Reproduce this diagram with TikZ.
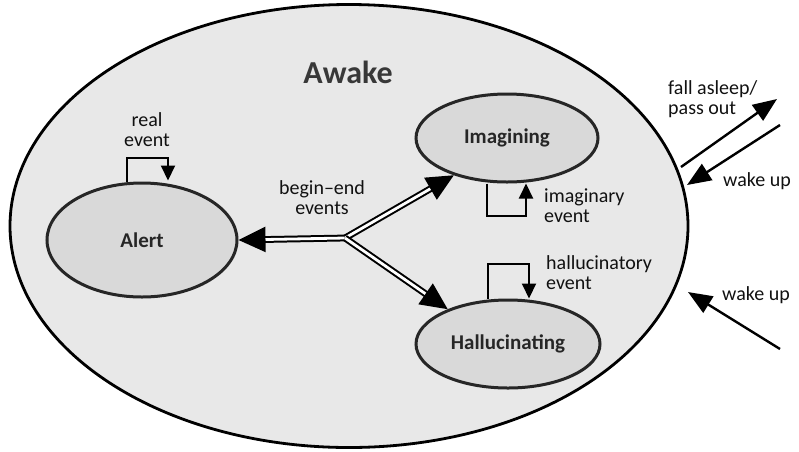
\documentclass[tikz,border=0pt]{standalone}
\usepackage{fontspec}
\setmainfont{Carlito}
\usetikzlibrary{shapes.geometric,arrows.meta,calc}
\definecolor{bigfill}{HTML}{E8E8E8}
\definecolor{smallfill}{HTML}{D9D9D9}
\definecolor{txt}{HTML}{111111}
\begin{document}
\begin{tikzpicture}[x=1pt,y=-1pt,
  state/.style={ellipse,draw=black!85,line width=3pt,fill=smallfill,inner sep=0pt,
    font=\fontsize{21}{24}\selectfont\bfseries,text=black!85},
  lbl/.style={font=\fontsize{20}{20}\selectfont,text=txt,align=left,inner sep=0pt},
  loopar/.style={line width=2pt,-{Triangle[length=15pt,width=14pt]}},
  outar/.style={line width=2.4pt,-{Triangle[length=24pt,width=19pt]}},
  dbl/.style={line width=2pt,double=white,double distance=2.8pt,-{Triangle[length=27pt,width=25pt]}}]
\useasboundingbox (0,0) rectangle (799,451);
\node[ellipse,draw=black,line width=2.8pt,fill=bigfill,minimum width=678pt,minimum height=443pt,inner sep=0pt] (awake) at (349,226) {};
\node[font=\fontsize{32}{36}\selectfont\bfseries,text=black!78] (awaketxt) at (348,72) {Awake};
\node[state,minimum width=190pt,minimum height=114pt] (alert) at (142,240) {Alert};
\node[state,minimum width=182pt,minimum height=88pt] (imag) at (507,138) {Imagining};
\node[state,minimum width=184pt,minimum height=88pt] (hall) at (508,344) {Hallucinating};
% loops
\node[lbl,align=center,anchor=center] (realtxt) at (147,130) {real\\event};
\draw[loopar] ([xshift=-15pt]alert.north) -- ++(0,-24) -| ([xshift=26pt,yshift=1pt]alert.north);
\node[lbl,anchor=west] (imagtxt) at (544,206) {imaginary\\event};
\draw[loopar] ([xshift=-20pt]imag.south) -- ++(0,32) -| ([xshift=19pt]imag.south);
\node[lbl,anchor=west] (halltxt) at (546,273) {hallucinatory\\event};
\draw[loopar] ([xshift=-20pt]hall.north) -- ++(0,-35) -| ([xshift=21pt]hall.north);
% begin-end
\coordinate (J) at (345,238);
\node[lbl,align=center] (betxt) at (322,198) {begin–end\\events};
\draw[dbl] (J) -- (alert.east);
\draw[dbl] (J) -- (imag.-145);
\draw[dbl] (J) -- (hall.150);
% outer arrows
\coordinate (fa0) at (681,167);
\coordinate (fa1) at (777,99);
\coordinate (wa0) at (780,125);
\coordinate (wa1) at (687,185);
\coordinate (wb0) at (780,349);
\coordinate (wb1) at (688,292);
\draw[outar] (fa0) -- (fa1);
\draw[outar] (wa0) -- (wa1);
\draw[outar] (wb0) -- (wb1);
\node[lbl,anchor=west] (fatxt) at (668,99) {fall asleep/\\pass out};
\node[lbl,anchor=west] (watxt) at (723,181) {wake up};
\node[lbl,anchor=west] (wbtxt) at (722,295) {wake up};
\end{tikzpicture}
\end{document}
